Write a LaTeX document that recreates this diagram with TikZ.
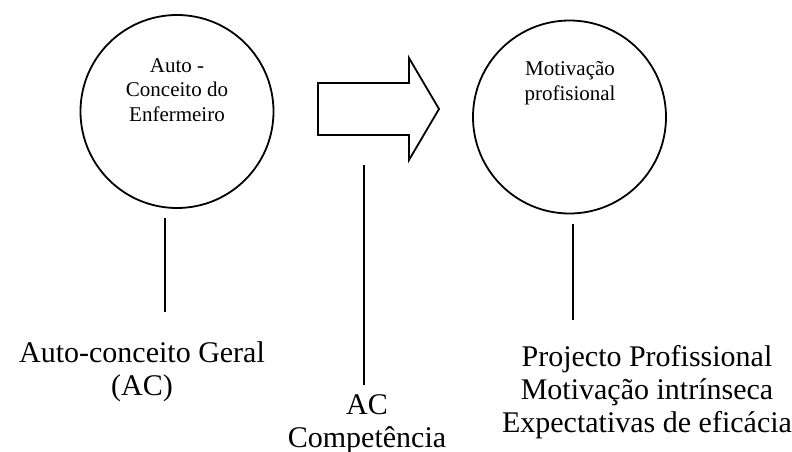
\documentclass[tikz,border=0pt]{standalone}
\usepackage{fontspec}
\setmainfont{Liberation Serif}

\begin{document}
\begin{tikzpicture}[x=1pt,y=-1pt,
	ring/.style={circle,draw,line width=1.8pt,minimum size=193pt,inner sep=0pt},
	intext/.style={align=center,font=\fontsize{21}{24.5}\selectfont,inner sep=0pt},
	outtext/.style={align=center,font=\fontsize{30}{33}\selectfont,inner sep=0pt},
	link/.style={line width=1.8pt}]
	\useasboundingbox (0,0) rectangle (792,452);
	% circles
	\node[ring] (self) at (177,111.5) {};
	\node[ring] (motiv) at (569.5,117) {};
	\node[intext, anchor=base] (selftext) at (177,121) {Auto -\\Conceito do\\Enfermeiro};
	\node[intext, anchor=base] (motivtext) at (570,100) {Motiva\c{c}\~ao\\profisional};
	% arrow
	\draw[link] (318,83) -- (409,83) -- (409,58) -- (439,109) -- (409,160) -- (409,135) -- (318,135) -- cycle;
	% lines
	\coordinate (selfa) at (165,218);
	\coordinate (selfb) at (165,312);
	\coordinate (flowa) at (364,165);
	\coordinate (flowb) at (364,385);
	\coordinate (motiva) at (573,224);
	\coordinate (motivb) at (573,320);
	\draw[link] (selfa) -- (selfb);
	\draw[link] (flowa) -- (flowb);
	\draw[link] (motiva) -- (motivb);
	% texts
	\node[outtext, anchor=base] (general) at (142,395) {Auto-conceito Geral\\(AC)};
	\node[outtext, anchor=base] (compet) at (367,447) {AC\\Compet\^encia};
	\node[outtext, anchor=base] (project) at (647,432) {Projecto Profissional\\Motiva\c{c}\~ao intr\'{\i}nseca\\Expectativas de efic\'acia};
\end{tikzpicture}
\end{document}
